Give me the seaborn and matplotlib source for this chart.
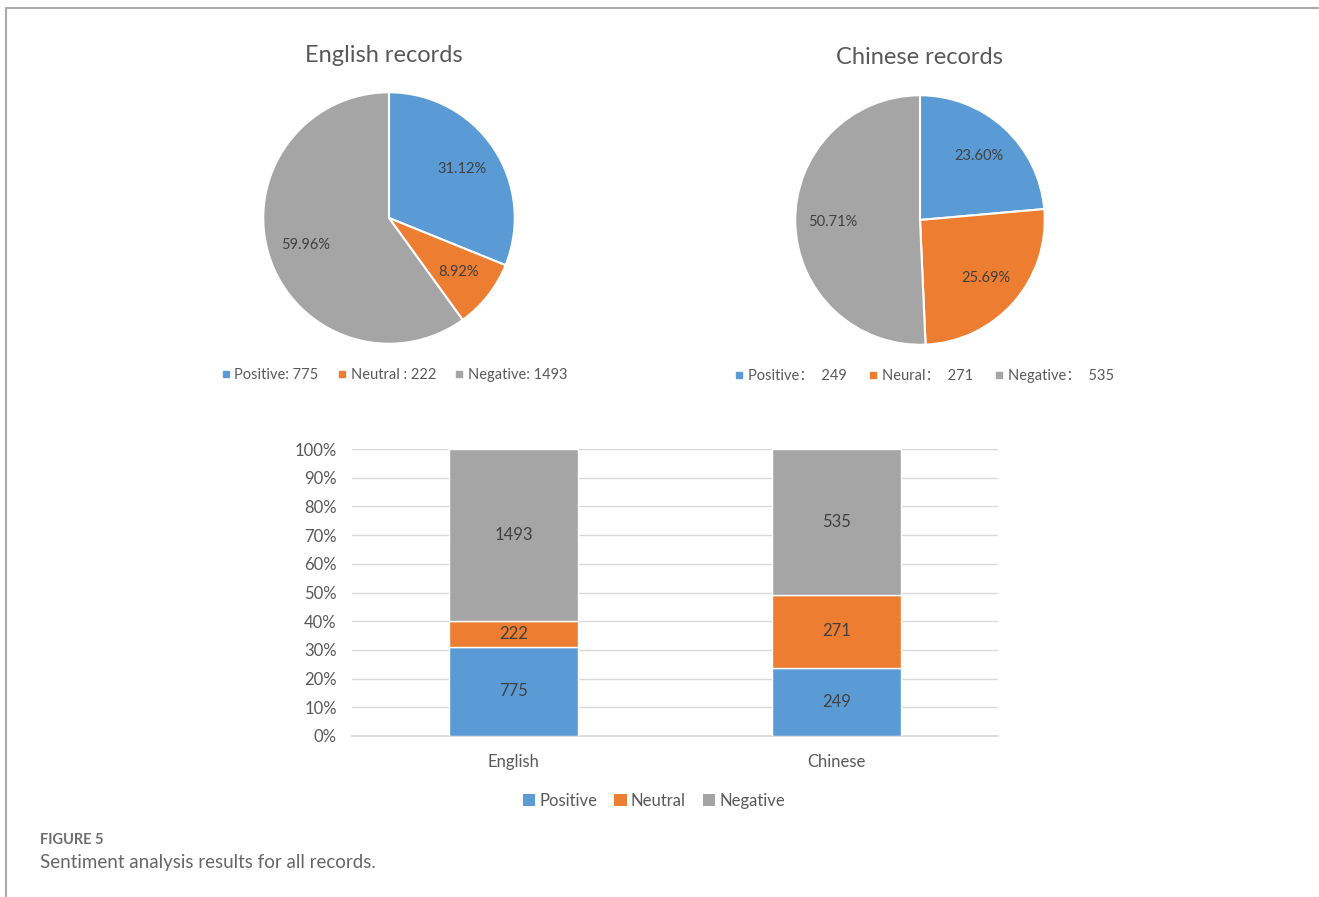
import matplotlib
matplotlib.use("Agg")
import matplotlib.pyplot as plt
from matplotlib.lines import Line2D
from matplotlib.patches import Patch
import numpy as np
import pandas as pd
import seaborn as sns

# ---- data ----
sentiments = ["Positive", "Neutral", "Negative"]
languages = ["English", "Chinese"]
english_counts = [775, 222, 1493]
chinese_counts = [249, 271, 535]
english_legend = ["Positive: 775", "Neutral : 222", "Negative: 1493"]
chinese_legend = ["Positive\uff1a  249", "Neural\uff1a  271", "Negative\uff1a  535"]
y_ticks = [0, 10, 20, 30, 40, 50, 60, 70, 80, 90, 100]

colors = ["#5B9BD5", "#ED7D31", "#A5A5A5"]
text_col = "#595959"

sns.set_theme(style="white")
plt.rcParams["font.family"] = ["Lato", "Noto Sans CJK SC", "DejaVu Sans"]

W, H = 1319, 897
fig = plt.figure(figsize=(W / 100, H / 100), dpi=100)


def box(left, top, width, height):
    return [left / W, 1 - (top + height) / H, width / W, height / H]


def draw_pie(ax, counts, title, legend_labels, title_y, legend_y, cx, lx,
             colspace):
    ax.pie(counts, colors=colors, startangle=90, counterclock=False,
           autopct="%.2f%%", pctdistance=0.70,
           wedgeprops=dict(edgecolor="white", linewidth=1.5),
           textprops=dict(color="#404040", fontsize=10.5))
    ax.set_xlim(-1.01, 1.01)
    ax.set_ylim(-1.01, 1.01)
    ax.set_aspect("equal")
    ax.axis("off")
    fig.text(cx / W, 1 - title_y / H, title, ha="center", va="center",
             fontsize=17, color=text_col)
    handles = [Line2D([], [], marker="s", linestyle="", markersize=4.5,
                      color=c) for c in colors]
    fig.legend(handles, legend_labels, loc="center",
               bbox_to_anchor=(lx / W, 1 - legend_y / H), ncol=3,
               frameon=False, handlelength=0.7, handletextpad=0.25,
               columnspacing=colspace, labelcolor=text_col,
               prop=dict(family=["Lato", "Noto Sans CJK SC"], size=10.5))


ax_en = fig.add_axes(box(262, 91, 254, 254))
draw_pie(ax_en, english_counts, "English records", english_legend, 55, 375,
         384, 394, 1.25)
ax_cn = fig.add_axes(box(794, 94, 252, 252))
draw_pie(ax_cn, chinese_counts, "Chinese records", chinese_legend, 57, 376,
         919, 924, 1.45)

# ---- 100% stacked bars ----
df = pd.DataFrame({"language": np.repeat(languages, 3),
                   "sentiment": sentiments * 2,
                   "count": english_counts + chinese_counts})
df["pct"] = df["count"] / df.groupby("language")["count"].transform("sum") * 100
df["bottom"] = df.groupby("language")["pct"].cumsum() - df["pct"]

ax = fig.add_axes(box(352, 449, 646, 287))
for s, c in zip(sentiments, colors):
    sub = df[df["sentiment"] == s]
    sns.barplot(data=sub, x="language", y="pct", order=languages,
                bottom=sub["bottom"].to_numpy(), color=c, width=0.4,
                saturation=1, ax=ax, zorder=3)
    for i, lang in enumerate(languages):
        row = sub[sub["language"] == lang].iloc[0]
        ax.text(i, row["bottom"] + row["pct"] / 2, f"{row['count']}",
                ha="center", va="center", fontsize=12, color="#404040",
                zorder=4)

ax.set_xlim(-0.5, 1.5)
ax.set_ylim(0, 100)
ax.set_yticks(y_ticks)
ax.set_yticklabels([f"{t}%" for t in y_ticks])
ax.yaxis.grid(True, color="#D9D9D9", linewidth=1)
ax.set_axisbelow(True)
for sp in ["top", "right", "left"]:
    ax.spines[sp].set_visible(False)
ax.spines["bottom"].set_color("#D9D9D9")
ax.tick_params(axis="both", length=0, labelsize=12, labelcolor=text_col)
ax.tick_params(axis="x", pad=13)
ax.tick_params(axis="y", pad=11)
ax.set_xlabel("")
ax.set_ylabel("")

leg_handles = [Patch(facecolor=c, edgecolor="none") for c in colors]
fig.legend(leg_handles, sentiments, loc="center",
           bbox_to_anchor=(654 / W, 1 - 801 / H), ncol=3, frameon=False,
           fontsize=12, handlelength=0.75, handleheight=0.75,
           handletextpad=0.25, columnspacing=1.0, labelcolor=text_col)

# ---- frame and caption ----
fig.add_artist(Line2D([6 / W, 1318 / W], [1 - 8 / H, 1 - 8 / H],
                      color="#AAAAAA", linewidth=1.5))
fig.add_artist(Line2D([6 / W, 6 / W], [1 - 8 / H, 0], color="#AAAAAA",
                      linewidth=1.5))
fig.text(40 / W, 1 - 840 / H, "FIGURE 5", fontsize=10.5, fontweight="bold",
         color="#6E6E6E", va="center", ha="left")
fig.text(40 / W, 1 - 862 / H, "Sentiment analysis results for all records.",
         fontsize=13.5, color="#666666", va="center", ha="left")

fig.savefig("out.png", dpi=100, facecolor="white")
